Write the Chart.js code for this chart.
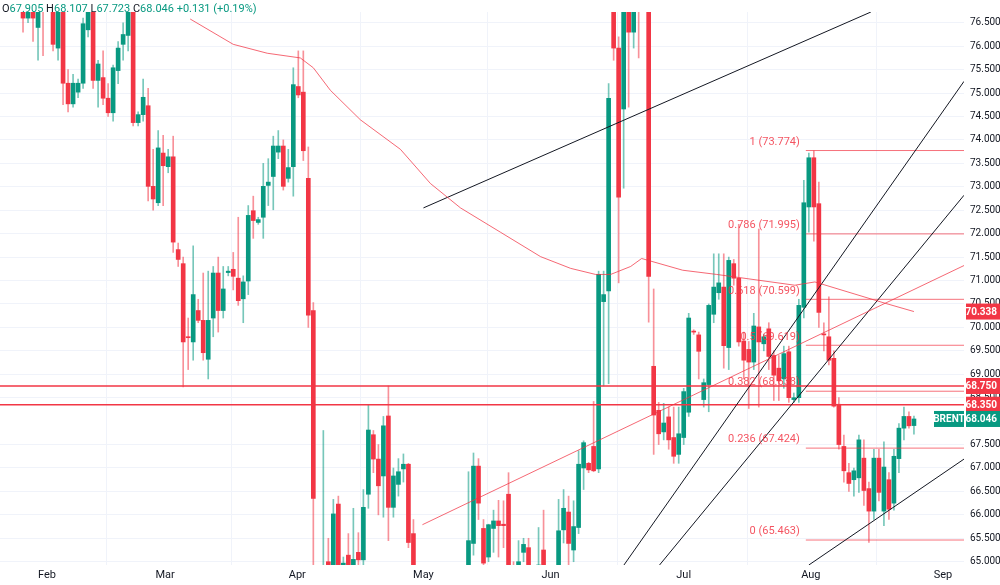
<!DOCTYPE html>
<html>
<head>
<meta charset="utf-8">
<script src="https://cdn.jsdelivr.net/npm/chart.js@4/dist/chart.umd.min.js"></script>
<style>
  html, body { margin: 0; padding: 0; background: #fff; }
  #wrap { width: 1000px; height: 585px; }
</style>
</head>
<body>
<div id="wrap"><canvas id="brentChart"></canvas></div>
<script>
// candles, one per session
const opens = [77.0,77.1,77.2,77.3,77.0,76.6,77.1,76.4,77.2,76.9,77.2,75.96,76.9,75.21,74.77,75.02,75.21,76.35,76.9,75.27,
  75.33,74.89,74.58,75.48,76.04,76.23,76.8,74.37,74.54,74.73,73.01,72.66,73.72,73.43,73.64,71.66,71.36,69.8,69.69,70.36,
  70.15,69.32,70.2,71.16,70.36,71.17,71.24,71.05,70.61,70.99,72.49,72.24,72.35,73.03,73.22,73.74,73.87,73.18,73.43,75.14,
  75.02,73.18,70.36,64.8,64.3,65.0,64.85,66.23,64.9,65.14,64.9,65.2,65.04,66.44,67.71,67.19,66.83,68.11,66.16,66.65,
  66.98,67.08,65.6,64.6,64.2,63.9,64.1,63.8,63.5,63.7,64.2,64.0,64.3,64.6,65.39,67.04,65.71,65.1,65.71,65.87,
  65.8,66.44,64.9,64.7,65.2,65.3,64.8,64.85,65.25,64.8,64.6,64.8,65.68,66.06,65.25,65.73,67.0,67.10,67.46,66.98,
  70.55,70.78,77.0,75.96,74.66,77.2,76.3,77.5,77.3,77.6,69.17,68.23,67.77,68.09,67.65,67.29,67.65,68.19,69.92,69.84,
  68.46,68.78,70.28,70.74,70.86,69.57,71.36,71.05,69.71,69.53,69.26,70.01,69.65,69.97,69.4,69.13,68.9,69.48,68.46,68.5,
  70.43,72.57,73.62,72.64,69.86,69.8,69.34,68.36,67.46,66.9,66.75,66.79,67.21,66.56,66.08,67.21,66.08,66.75,66.25,67.2,
  67.85,68.1,67.905];
const highs = [77.3,77.4,77.5,77.5,77.2,77.1,77.2,77.2,77.4,77.5,77.4,77.0,77.1,75.5,75.4,75.3,76.6,77.0,77.1,75.7,
  75.9,75.2,75.6,76.1,76.5,77.0,77.0,74.6,75.3,75.1,73.8,74.2,74.1,73.8,74.08,71.8,71.5,70.2,71.74,70.6,
  71.16,71.2,71.3,71.5,71.3,71.3,71.6,72.35,71.1,72.6,72.8,72.35,73.5,73.6,74.08,74.2,74.0,73.8,75.54,75.9,
  75.9,73.85,70.53,64.9,67.8,65.5,66.33,66.4,65.1,65.6,66.14,65.62,66.54,68.34,67.8,67.5,68.1,68.75,67.0,67.2,
  67.3,67.1,65.9,64.85,64.6,64.3,64.5,64.2,64.0,64.4,64.6,64.5,64.7,66.92,67.32,67.2,65.9,65.8,66.1,66.31,
  66.3,66.9,65.0,65.45,65.5,65.5,64.9,65.73,66.1,64.9,64.9,66.33,66.54,66.4,66.3,67.37,67.58,67.12,68.42,71.2,
  71.2,75.2,77.3,76.2,77.3,77.4,77.3,77.8,78.0,77.8,70.82,68.4,68.38,68.3,68.3,68.3,68.7,70.3,69.95,69.9,
  68.9,70.5,71.57,71.57,71.57,71.5,71.45,72.2,69.9,69.7,70.3,72.1,69.85,70.1,69.5,69.4,69.6,69.6,68.6,70.6,
  73.14,73.72,73.77,73.1,70.1,70.65,69.5,68.5,67.7,67.1,67.0,67.7,67.6,66.7,67.4,67.4,67.56,66.9,67.4,67.95,
  68.3,68.2,68.107];
const lows = [76.9,76.9,77.0,76.8,76.3,76.5,76.1,75.7,75.8,76.8,75.9,75.7,74.75,74.6,74.7,74.9,75.1,76.2,75.1,74.7,
  74.75,74.5,74.4,75.2,75.7,75.9,74.3,74.3,74.4,72.7,72.5,72.6,72.6,73.3,71.6,71.3,68.73,69.1,69.3,70.1,
  69.3,68.9,69.8,69.9,70.2,71.1,70.8,70.47,70.1,70.7,71.9,72.2,71.9,72.6,72.51,73.6,72.93,73.1,72.8,74.9,
  73.56,70.0,64.5,64.0,64.0,64.7,64.7,64.6,64.8,64.6,64.7,64.9,64.9,66.14,66.9,66.0,65.95,65.45,65.95,66.4,
  66.7,65.3,64.5,64.0,63.6,63.3,63.7,63.2,63.0,63.4,63.8,63.6,63.9,64.3,65.14,65.9,64.8,65.0,65.2,65.1,
  65.3,64.8,64.2,64.6,65.0,64.7,64.3,64.7,64.6,64.2,64.3,64.6,65.4,64.9,65.0,65.6,66.54,66.9,66.92,66.9,
  68.75,68.8,75.7,70.95,72.97,74.7,75.96,75.75,76.9,70.11,67.29,67.5,67.6,67.4,67.1,67.1,67.5,68.1,69.85,68.9,
  68.3,68.2,70.1,70.6,69.13,69.1,70.9,69.6,68.9,68.27,69.1,68.3,69.5,69.1,68.44,68.44,68.7,68.4,68.4,68.4,
  70.2,72.03,71.84,70.0,69.5,69.2,68.3,67.4,66.7,66.5,66.4,66.48,66.2,65.41,65.9,66.3,65.77,65.9,66.1,66.9,
  67.6,67.85,67.723];
const closes = [77.1,77.2,77.3,77.0,76.6,76.9,76.6,77.0,76.9,77.3,76.04,76.9,75.21,74.77,75.21,75.21,76.48,76.9,75.27,75.62,
  74.89,74.58,75.54,75.96,76.25,76.8,74.37,74.54,74.91,73.01,72.74,73.83,73.45,73.64,71.82,71.45,69.69,69.78,70.7,70.15,
  69.46,70.15,71.16,70.36,70.82,71.2,71.09,70.57,70.97,72.39,72.28,72.3,73.01,73.1,73.87,73.87,73.01,73.41,75.18,74.96,
  73.77,70.26,66.35,64.3,64.8,64.9,66.02,64.85,64.97,64.85,65.05,65.04,66.16,67.81,67.19,66.62,67.9,66.16,66.83,66.92,
  67.08,65.41,64.89,64.2,63.9,64.1,63.8,63.5,63.7,64.2,64.0,64.3,64.6,65.45,67.04,66.25,64.97,65.79,65.87,65.77,
  65.77,64.9,64.6,65.0,65.37,64.8,64.7,64.93,64.8,64.6,64.8,65.66,66.14,65.39,65.75,67.08,67.54,66.96,66.94,71.13,
  70.7,74.89,75.96,72.78,77.0,76.3,77.0,77.0,77.6,71.09,68.13,67.73,67.96,67.6,67.25,67.73,68.63,70.2,69.9,69.49,
  68.82,70.47,70.86,70.95,69.61,71.43,71.05,69.69,69.3,69.26,70.03,69.69,69.8,69.38,68.98,68.86,69.44,68.5,68.5,70.47,
  72.66,73.62,72.57,70.32,69.84,69.3,68.32,67.5,66.94,66.67,66.94,67.6,66.52,66.08,67.21,66.48,67.02,66.12,67.25,67.85,
  68.1,67.9,68.046];

// month starts, in session index
const monthNames = ["Feb", "Mar", "Apr", "May", "Jun", "Jul", "Aug", "Sep"];
const monthPos = [8.8, 32.4, 58.8, 84, 109.4, 136, 161.4, 187.8];
const priceTicks = [65, 65.5, 66, 66.5, 67, 67.5, 68.5, 69, 69.5, 70, 70.5, 71, 71.5, 72, 72.5, 73, 73.5, 74, 74.5, 75, 75.5, 76, 76.5];

// moving average, read as points [session, price]
const maPoints = [[37.4,76.58],[46,76.04],[52.8,75.85],[59.4,75.75],[62,75.54],[65.4,75.06],[71.4,74.43],[79.4,73.8],
  [85.4,73.07],[91.4,72.55],[99.4,72.03],[107.4,71.51],[113.4,71.26],[118.4,71.13],[121.4,71.13],[125.4,71.3],
  [127.6,71.47],[135.8,71.22],[142.6,71.13],[158.2,70.9],[162.2,70.97],[176.4,70.51],[182,70.338]];
// drawn lines, endpoints [session, price]
const riseLine = [[83.8,65.79],[192,71.32]];
const topLine = [[84,72.55],[173.4,76.73]];
const channelA = [[123.4,64.83],[192,75.25]];
const channelB = [[130.4,64.83],[192,72.82]];
const supportLine = [[161,64.93],[192,67.19]];
const levels = [68.75, 68.35];
const fibRatios = ["1", "0.786", "0.618", "0.5", "0.382", "0.236", "0"];
const fibPrices = [73.774, 71.995, 70.599, 69.619, 68.638, 67.424, 65.463];
const fibStart = 160.4;
const fibEnd = 192;
const maLast = 70.338;
const lastClose = 68.046;

const UP = "#089981";
const DOWN = "#f23645";
const isUp = i => closes[i] >= opens[i];
const pts = arr => arr.map(p => ({ x: p[0], y: p[1] }));

const lineSet = (data, color, width) => ({
  type: "line", data: pts(data), borderColor: color, borderWidth: width,
  pointRadius: 0, fill: false, tension: 0, order: 0,
});

const datasets = [
  {
    type: "bar",
    data: lows.map((l, i) => ({ x: i, y: [l, highs[i]] })),
    backgroundColor: ctx => isUp(ctx.dataIndex) ? "rgba(8,153,129,0.55)" : "rgba(242,54,69,0.55)",
    barThickness: 1, grouped: false, order: 2,
  },
  {
    type: "bar",
    data: opens.map((o, i) => ({ x: i, y: [o, closes[i]] })),
    backgroundColor: ctx => isUp(ctx.dataIndex) ? UP : DOWN,
    barThickness: 4, minBarLength: 1, grouped: false, order: 1,
  },
  lineSet(maPoints, "rgba(242,54,69,0.75)", 1),
  lineSet(riseLine, "rgba(242,54,69,0.75)", 1),
  lineSet(topLine, "#131722", 1),
  lineSet(channelA, "#131722", 1),
  lineSet(channelB, "#131722", 1),
  lineSet(supportLine, "#131722", 1),
];
levels.forEach(v => datasets.push(lineSet([[-1, v], [fibEnd, v]], DOWN, 1.5)));
fibPrices.forEach(v => datasets.push(lineSet([[fibStart, v], [fibEnd, v]], "rgba(242,54,69,0.7)", 1)));

const overlay = {
  id: "overlay",
  afterDraw(chart) {
    const { ctx, chartArea, scales } = chart;
    const x = scales.x, y = scales.y;
    ctx.save();
    // fib labels
    ctx.font = "11px Roboto";
    ctx.fillStyle = "rgba(242,54,69,0.85)";
    ctx.textAlign = "right";
    ctx.textBaseline = "bottom";
    fibPrices.forEach((p, k) => {
      ctx.fillText(fibRatios[k] + " (" + p.toFixed(3) + ")", x.getPixelForValue(fibStart) - 6, y.getPixelForValue(p) - 3);
    });
    // price boxes on the axis
    const box = (price, text, color, left) => {
      const py = y.getPixelForValue(price);
      ctx.fillStyle = color;
      ctx.fillRect(left, py - 8, 1000 - left, 16);
      ctx.fillStyle = "#fff";
      ctx.font = "bold 10px Roboto";
      ctx.textAlign = "right";
      ctx.textBaseline = "middle";
      ctx.fillText(text, 997, py + 0.5);
    };
    const axisLeft = chartArea.right + 2;
    box(maLast, maLast.toFixed(3), DOWN, axisLeft);
    box(levels[0], levels[0].toFixed(3), DOWN, axisLeft);
    box(levels[1], levels[1].toFixed(3), DOWN, axisLeft);
    box(lastClose, lastClose.toFixed(3), UP, axisLeft);
    const by = y.getPixelForValue(lastClose);
    ctx.fillStyle = UP;
    ctx.fillRect(axisLeft - 32, by - 8, 30, 16);
    ctx.fillStyle = "#fff";
    ctx.textAlign = "center";
    ctx.fillText("BRENT", axisLeft - 17, by + 0.5);
    // OHLC legend
    const n = closes.length - 1;
    const parts = [["O", "#131722"], [opens[n].toFixed(3), UP], [" H", "#131722"], [highs[n].toFixed(3), UP],
      [" L", "#131722"], [lows[n].toFixed(3), UP], [" C", "#131722"], [closes[n].toFixed(3), UP],
      [" +0.131 (+0.19%)", UP]];
    ctx.font = "11px Roboto";
    ctx.textAlign = "left";
    let tx = 2;
    parts.forEach(([t, c]) => {
      ctx.fillStyle = c;
      ctx.fillText(t, tx, 9);
      tx += ctx.measureText(t).width;
    });
    ctx.restore();
  },
};

new Chart(document.getElementById("brentChart"), {
  data: { datasets },
  options: {
    responsive: true,
    maintainAspectRatio: false,
    animation: false,
    layout: { padding: 0 },
    plugins: { legend: { display: false }, tooltip: { enabled: false } },
    scales: {
      x: {
        type: "linear", min: -0.6, max: 192, offset: false,
        afterBuildTicks: s => { s.ticks = monthPos.map(v => ({ value: v })); },
        afterFit: s => { s.height = 20; },
        ticks: {
          autoSkip: false, maxRotation: 0, padding: 4,
          color: "#131722", font: { size: 11, family: "Roboto" },
          callback: v => monthNames[monthPos.indexOf(v)],
        },
        grid: { color: "#f0f3fa", drawTicks: false },
        border: { display: false },
      },
      y: {
        type: "linear", position: "right", min: 64.93, max: 76.73,
        afterBuildTicks: s => { s.ticks = priceTicks.map(v => ({ value: v })); },
        afterFit: s => { s.width = 36; },
        ticks: {
          padding: 6, color: "#131722", font: { size: 10, family: "Roboto" },
          callback: v => v.toFixed(3),
        },
        grid: { color: "#f0f3fa", drawTicks: false },
        border: { display: false },
      },
    },
  },
  plugins: [overlay],
});
</script>
</body>
</html>
